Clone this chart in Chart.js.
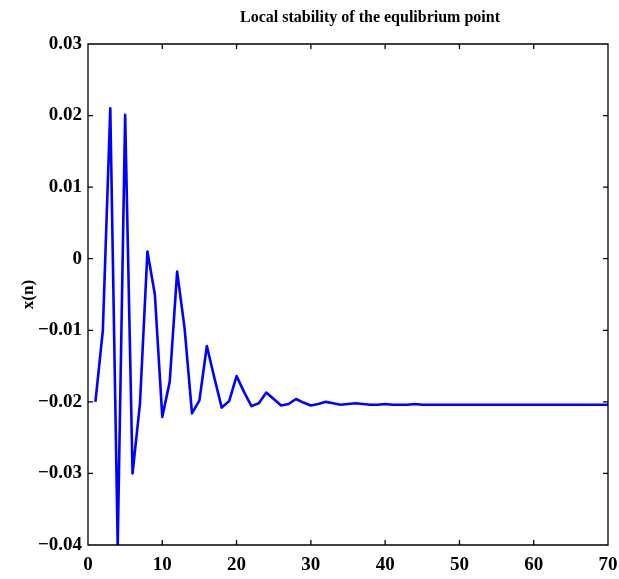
<!DOCTYPE html>
<html><head><meta charset="utf-8">
<script src="https://cdn.jsdelivr.net/npm/chart.js@4/dist/chart.umd.min.js"></script>
<style>html,body{margin:0;padding:0;background:#fff;}canvas{display:block;}</style>
</head><body>
<canvas id="c" width="619" height="579"></canvas>
<script>
const titleText = 'Local stability of the equlibrium point';
const yAxisLabel = 'x(n)';
const nValues = [1,2,3,4,5,6,7,8,9,10,11,12,13,14,15,16,17,18,19,20,21,22,23,24,25,26,27,28,29,30,31,32,33,34,35,36,37,38,39,40,41,42,43,44,45,46,47,48,49,50,51,52,53,54,55,56,57,58,59,60,61,62,63,64,65,66,67,68,69,70];
const xValues = [-0.0200,-0.0100,0.0210,-0.0400,0.0201,-0.0300,-0.0202,0.0010,-0.0050,-0.0221,
  -0.0172,-0.0018,-0.0097,-0.0216,-0.0198,-0.0122,-0.0166,-0.0208,-0.0199,-0.0164,
  -0.0186,-0.0206,-0.0202,-0.0187,-0.0196,-0.0205,-0.0203,-0.0196,-0.0201,-0.0205,
  -0.0203,-0.0200,-0.0202,-0.0204,-0.0203,-0.0202,-0.0203,-0.0204,-0.0204,-0.0203,
  -0.0204,-0.0204,-0.0204,-0.0203,-0.0204,-0.0204,-0.0204,-0.0204,-0.0204,-0.0204,
  -0.0204,-0.0204,-0.0204,-0.0204,-0.0204,-0.0204,-0.0204,-0.0204,-0.0204,-0.0204,
  -0.0204,-0.0204,-0.0204,-0.0204,-0.0204,-0.0204,-0.0204,-0.0204,-0.0204,-0.0204];
const xTickValues = [0,10,20,30,40,50,60,70];
const xTickLabels = ['0','10','20','30','40','50','60','70'];
const yTickValues = [-0.04,-0.03,-0.02,-0.01,0,0.01,0.02,0.03];
const yTickLabels = ['\u22120.04','\u22120.03','\u22120.02','\u22120.01','0','0.01','0.02','0.03'];

const FONT = '"Liberation Serif","Times New Roman",serif';

const boxPlugin = {
  id: 'boxTicks',
  afterDraw(chart) {
    const ctx = chart.ctx;
    const {left, right, top, bottom} = chart.chartArea;
    const sx = chart.scales.x, sy = chart.scales.y;
    ctx.save();
    ctx.strokeStyle = '#000';
    ctx.lineWidth = 1.3;
    ctx.beginPath();
    ctx.rect(left, top, right - left, bottom - top);
    xTickValues.forEach(v => {
      const p = sx.getPixelForValue(v);
      ctx.moveTo(p, bottom); ctx.lineTo(p, bottom - 5);
      ctx.moveTo(p, top); ctx.lineTo(p, top + 5);
    });
    yTickValues.forEach(v => {
      const p = sy.getPixelForValue(v);
      ctx.moveTo(left, p); ctx.lineTo(left + 5, p);
      ctx.moveTo(right, p); ctx.lineTo(right - 5, p);
    });
    ctx.stroke();
    ctx.font = 'bold 16px ' + FONT;
    ctx.fillStyle = '#000';
    ctx.textAlign = 'center';
    ctx.textBaseline = 'middle';
    ctx.fillText(titleText, 370, 18);
    ctx.restore();
  }
};

new Chart(document.getElementById('c'), {
  type: 'line',
  data: {
    datasets: [{
      data: nValues.map((v, i) => ({x: v, y: xValues[i]})),
      borderColor: '#0000FF',
      borderWidth: 2.6,
      borderJoinStyle: 'round',
      pointRadius: 0,
      tension: 0,
      fill: false
    }]
  },
  options: {
    responsive: false,
    animation: false,
    devicePixelRatio: 1,
    layout: {padding: {top: 44, right: 11, left: 0, bottom: 0}},
    plugins: {legend: {display: false}, tooltip: {enabled: false}, title: {display: false}},
    scales: {
      x: {
        type: 'linear', min: 0, max: 70,
        afterBuildTicks: s => { s.ticks = xTickValues.map(v => ({value: v})); },
        afterFit: s => { s.height = 34; s.paddingLeft = 0; s.paddingRight = 0; },
        grid: {display: false, drawTicks: false},
        border: {display: false},
        ticks: {
          callback: (v, i) => xTickLabels[i],
          color: '#000', padding: 9, maxRotation: 0, autoSkip: false,
          font: {family: FONT, size: 19, weight: 'bold'}
        }
      },
      y: {
        type: 'linear', min: -0.04, max: 0.03,
        afterBuildTicks: s => { s.ticks = yTickValues.map(v => ({value: v})); },
        afterFit: s => { s.width = 88; s.paddingTop = 0; s.paddingBottom = 0; },
        grid: {display: false, drawTicks: false},
        border: {display: false},
        ticks: {
          callback: (v, i) => yTickLabels[i],
          color: '#000', padding: 6, autoSkip: false,
          font: {family: FONT, size: 19, weight: 'bold'}
        },
        title: {
          display: true, text: yAxisLabel, color: '#000',
          font: {family: FONT, size: 17, weight: 'bold'},
          padding: {top: 18, bottom: 0}
        }
      }
    }
  },
  plugins: [boxPlugin]
});
</script>
</body></html>
